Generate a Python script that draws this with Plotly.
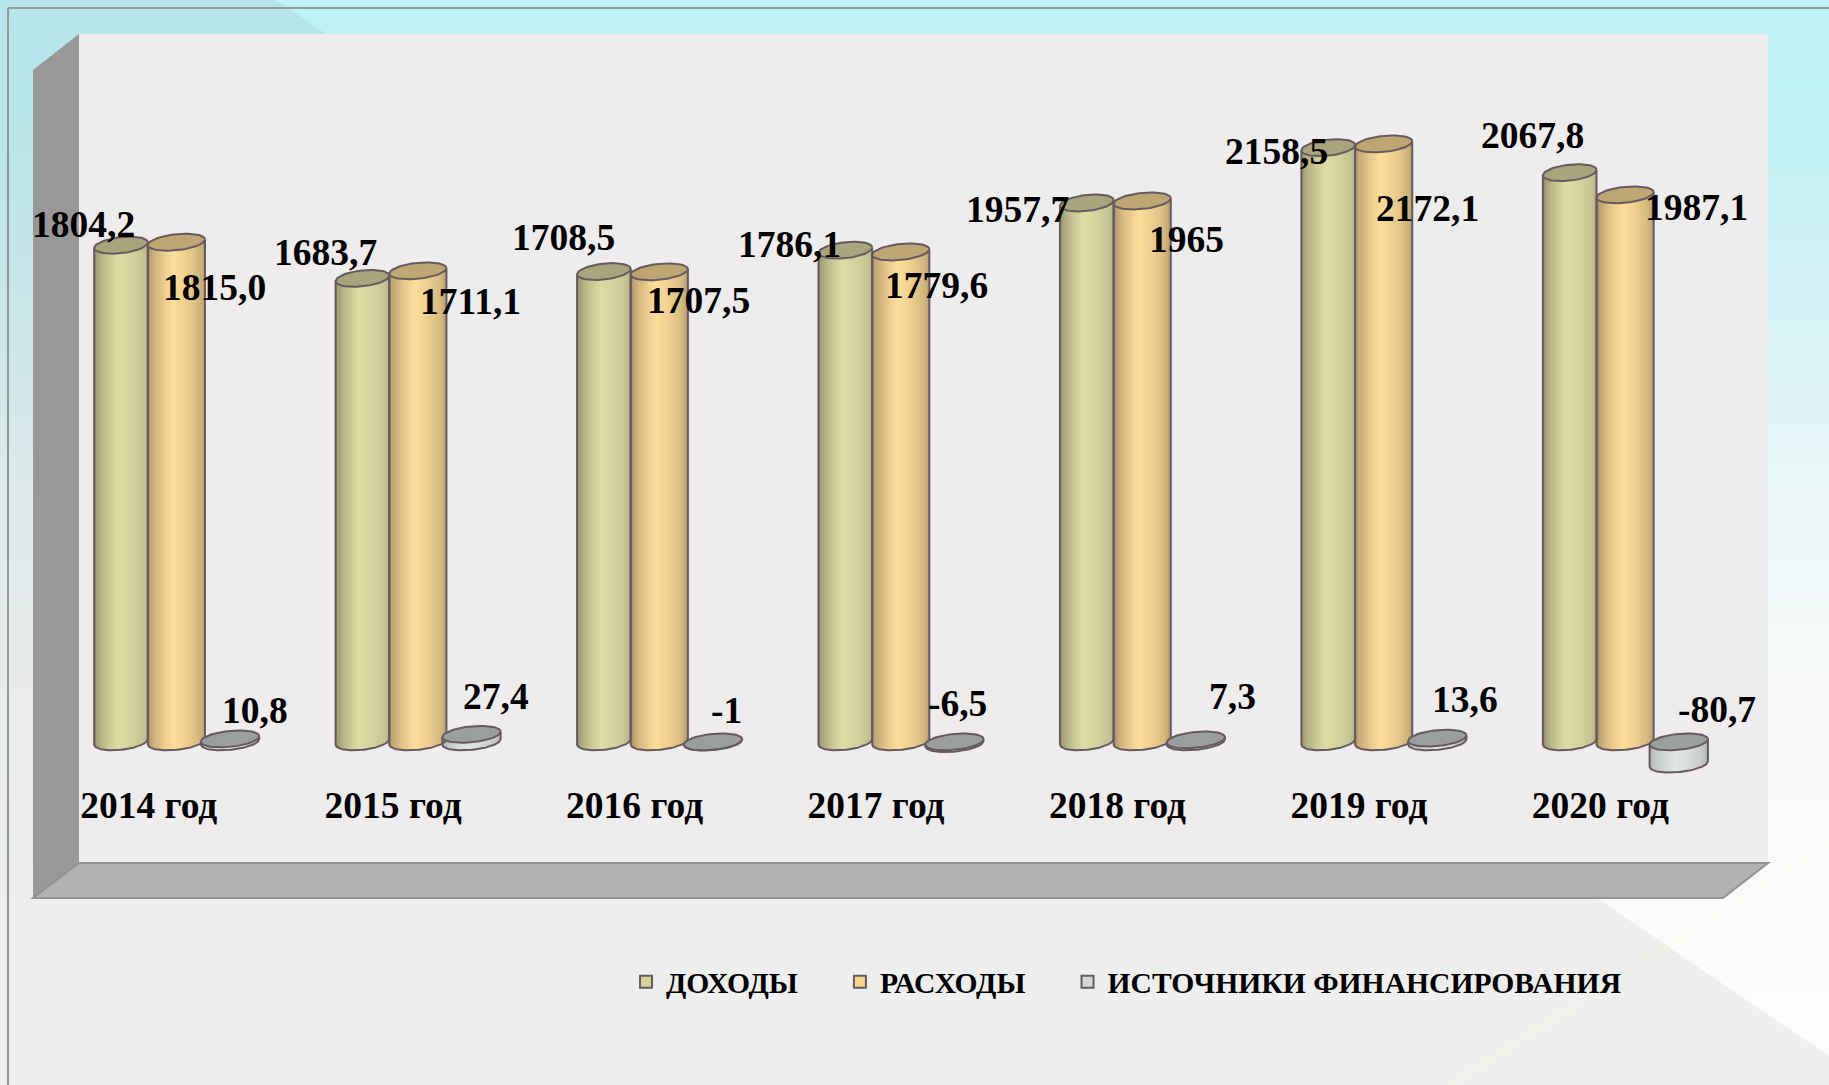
import numpy as np
import plotly.graph_objects as go

# ---------- data ----------
years = ["2014 год", "2015 год", "2016 год", "2017 год", "2018 год", "2019 год", "2020 год"]
income = [1804.2, 1683.7, 1708.5, 1786.1, 1957.7, 2158.5, 2067.8]
expense = [1815.0, 1711.1, 1707.5, 1779.6, 1965.0, 2172.1, 1987.1]
financing = [10.8, 27.4, -1.0, -6.5, 7.3, 13.6, -80.7]
income_text = ["1804,2", "1683,7", "1708,5", "1786,1", "1957,7", "2158,5", "2067,8"]
expense_text = ["1815,0", "1711,1", "1707,5", "1779,6", "1965", "2172,1", "1987,1"]
financing_text = ["10,8", "27,4", "-1", "-6,5", "7,3", "13,6", "-80,7"]

# ---------- label placement (pixels of shrunk view) ----------
S = 1829 / 1568
income_dx = [-32, -32, -35, -48, -59, -44, -32]
income_dy = [18, 22, 29, 5, -6, -3, 32]
expense_dx = [33, 45.5, 33.5, 30.5, 38, 38, 61.5]
expense_dy = [-39, -26, -25, -29, -33, -55, -11]
financing_dx = [21, 21, 12, 3, 31, 24, 33]
financing_dy = [24, 32, 27, 33, 37, 33, 28]
tick_shift = [-0.012, 0, 0, 0, 0, 0, 0]

# ---------- geometry ----------
W, H = 1829, 1085
WALL = (79, 34, 1768, 863)       # left, top, right, bottom
PERIOD = 207.0                   # shrunk px per category
GAP = "\u00a0" * 5
SERIES = [
    dict(name="ДОХОДЫ" + GAP, vals=income, text=income_text, dx=income_dx, dy=income_dy,
         off=-47 / PERIOD, w=46 / PERIOD, edgeL=(138, 134, 100), light=(224, 220, 164),
         edgeR=(178, 174, 134), cap="#a8a47c", sw="#d6d29a"),
    dict(name="РАСХОДЫ" + GAP, vals=expense, text=expense_text, dx=expense_dx, dy=expense_dy,
         off=0.5 / PERIOD, w=49 / PERIOD, edgeL=(160, 136, 96), light=(255, 222, 155),
         edgeR=(170, 146, 100), cap="#bda671", sw="#f5d68f"),
    dict(name="ИСТОЧНИКИ ФИНАНСИРОВАНИЯ", vals=financing, text=financing_text, dx=financing_dx,
         dy=financing_dy, off=46.5 / PERIOD, w=50 / PERIOD, edgeL=(168, 174, 172),
         light=(226, 231, 228), edgeR=(168, 174, 172), cap="#9a9e9e", sw="#d3dad8"),
]
B_UP = 29.0    # ellipse semi-minor axis, value units
SHEAR = 10.0   # ellipse tilt, value units at the right end
N = 26
OUTLINE = "#665a60"


def px(x):
    return x / W


def py(y):
    return 1 - y / H


fig = go.Figure()

# ---------- cylinders ----------
u = (np.arange(N) + 0.5) / N * 2 - 1
for s in SERIES:
    sx, sbase, sy, scol = [], [], [], []
    swid = []
    for i, v in enumerate(s["vals"]):
        cx = i + s["off"]
        top, bot = max(v, 0), min(v, 0)
        for uu in u:
            lower = bot - B_UP * np.sqrt(1 - uu * uu) + SHEAR * uu
            upper = top + SHEAR * uu
            t = (uu + 1) / 2
            if t < 0.45:
                k = (t / 0.45) ** 0.55
                c = [a + (b - a) * k for a, b in zip(s["edgeL"], s["light"])]
            else:
                k = ((1 - t) / 0.55) ** 0.42
                c = [a + (b - a) * k for a, b in zip(s["edgeR"], s["light"])]
            sx.append(cx + uu * s["w"] / 2)
            sbase.append(lower)
            sy.append(upper - lower)
            swid.append(s["w"] / N * 1.2)
            scol.append("rgb(%d,%d,%d)" % tuple(c))
    fig.add_trace(go.Bar(x=sx, y=sy, base=sbase, width=swid, showlegend=False, hoverinfo="skip",
                         marker=dict(color=scol, line=dict(width=0))))

for s in SERIES:
    tt = np.linspace(0, 2 * np.pi, 61)
    cap_x, cap_y, out_x, out_y = [], [], [], []
    arc = np.linspace(-1, 1, 41)
    for i, v in enumerate(s["vals"]):
        cx = i + s["off"]
        a = s["w"] / 2
        top, bot = max(v, 0), min(v, 0)
        cap_x += list(cx + a * np.cos(tt)) + [None]
        cap_y += list(top + B_UP * np.sin(tt) + SHEAR * np.cos(tt)) + [None]
        out_x += [cx - a] + list(cx + a * arc) + [cx + a, None]
        out_y += [top - SHEAR] + list(bot - B_UP * np.sqrt(1 - arc ** 2) + SHEAR * arc) + [top + SHEAR, None]
    fig.add_trace(go.Scatter(x=out_x, y=out_y, mode="lines", showlegend=False, hoverinfo="skip",
                             line=dict(color=OUTLINE, width=2)))
    fig.add_trace(go.Scatter(x=cap_x, y=cap_y, mode="lines", fill="toself", fillcolor=s["cap"],
                             showlegend=False, hoverinfo="skip", line=dict(color=OUTLINE, width=2)))

# legend entries
for s in SERIES:
    fig.add_trace(go.Bar(x=[None], y=[None], name=s["name"],
                         marker=dict(color=s["sw"], line=dict(color=OUTLINE, width=2))))

# ---------- data labels ----------
annotations = []
for s in SERIES:
    for i, v in enumerate(s["vals"]):
        annotations.append(dict(
            x=i + s["off"], y=max(v, 0), xref="x", yref="y", text=s["text"][i], showarrow=False,
            xanchor="center", yanchor="middle", xshift=s["dx"][i] * S, yshift=s["dy"][i] * S,
            font=dict(family="Liberation Serif", size=37.5, color="black", weight=700)))

# ---------- background ----------
shapes = []
stops_y = [0, 150, 300, 500, 700, 1085]
stops_c = [(191, 243, 248), (196, 242, 246), (212, 243, 246), (235, 247, 248), (248, 249, 249), (253, 253, 252)]
for y0 in range(0, H, 8):
    c = [np.interp(y0 + 4, stops_y, [k[j] for k in stops_c]) for j in range(3)]
    shapes.append(dict(type="rect", xref="paper", yref="paper", x0=0, x1=1, y0=py(y0 + 9), y1=py(y0),
                       fillcolor="rgb(%d,%d,%d)" % tuple(c), line=dict(width=0), layer="below"))


def poly(points, fill, line=None):
    d = "M" + " L".join("%.5f,%.5f" % (px(a), py(b)) for a, b in points) + " Z"
    return dict(type="path", xref="paper", yref="paper", path=d, fillcolor=fill,
                line=line or dict(width=0), layer="below")


shapes.append(poly([(276, 0), (1829, 1056), (1829, 1085), (0, 1085), (0, 0)], "rgba(0,0,0,0.05)"))
shapes.append(dict(type="line", xref="paper", yref="paper", x0=px(1829), y0=py(843), x1=px(1450), y1=py(1085),
                   line=dict(color="rgba(250,250,225,0.8)", width=1), layer="below"))
# frame
shapes.append(dict(type="line", xref="paper", yref="paper", x0=px(8), y0=py(8), x1=1, y1=py(8),
                   line=dict(color="#8f9b9b", width=2), layer="below"))
shapes.append(dict(type="line", xref="paper", yref="paper", x0=px(8), y0=py(8), x1=px(8), y1=0,
                   line=dict(color="#8f9b9b", width=2), layer="below"))
# chart box
L, T, R, Bm = WALL
shapes.append(poly([(L, T), (R, T), (R, Bm), (L, Bm)], "#eeecec"))
shapes.append(poly([(33, 70), (L, T), (L, Bm), (33, 898)], "#9a9798"))
shapes.append(poly([(33, 898), (L, Bm), (R, Bm), (1723, 898)], "#b2b2b2", dict(color="#929292", width=2)))

# ---------- layout ----------
x_min = (68 - 151) / PERIOD
x_max = (1516 - 151) / PERIOD
y_per_px = 1 / (0.236 * S)
zero_px = 636 * S
y_top = (zero_px - T) * y_per_px
y_bot = -(Bm - zero_px) * y_per_px

fig.update_layout(
    width=W, height=H, margin=dict(l=0, r=0, t=0, b=0, pad=0),
    paper_bgcolor="white", plot_bgcolor="rgba(0,0,0,0)",
    barmode="overlay", bargap=0, shapes=shapes, annotations=annotations,
    xaxis=dict(domain=[px(L), px(R)], range=[x_min, x_max], anchor="free", position=py(779),
               tickmode="array", tickvals=[i - 0.1 + d for i, d in enumerate(tick_shift)], ticktext=years,
               showgrid=False, zeroline=False, showline=False, ticks="",
               tickfont=dict(family="Liberation Serif", size=37.5, color="black", weight=700)),
    yaxis=dict(domain=[py(Bm), py(T)], range=[y_bot, y_top], visible=False, fixedrange=True),
    legend=dict(orientation="h", x=px(626), y=py(982), xanchor="left", yanchor="middle",
                bgcolor="rgba(0,0,0,0)", traceorder="normal",
                font=dict(family="Liberation Serif", size=29.6, color="black", weight=700)),
    showlegend=True,
)

fig.write_html("out.html", config=dict(displayModeBar=False),
               post_script="document.body.style.margin='0';document.body.style.overflow='hidden';")
